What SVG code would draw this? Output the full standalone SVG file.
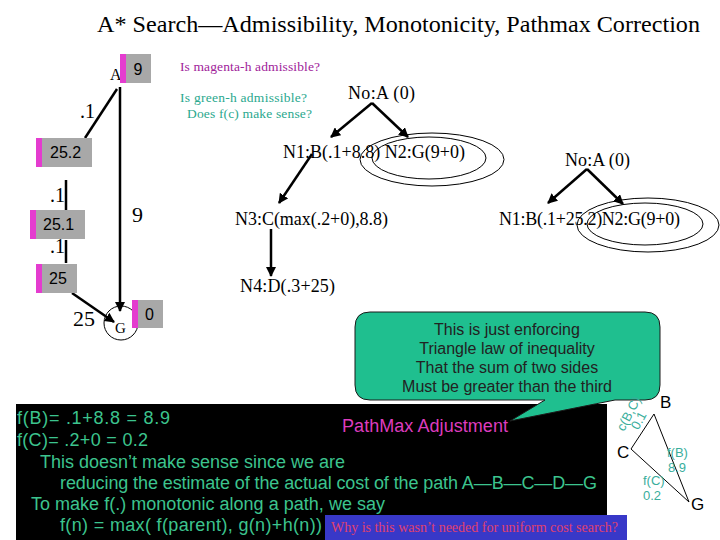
<svg xmlns="http://www.w3.org/2000/svg" width="720" height="540" viewBox="0 0 720 540">
<defs>
<marker id="ah" viewBox="0 0 10 10" refX="9" refY="5" markerWidth="4" markerHeight="4" orient="auto" markerUnits="strokeWidth">
<path d="M0,0 L10,5 L0,10 z" fill="#000"/>
</marker>
<style>
.serif{font-family:"Liberation Serif","Times New Roman",serif;}
.sans{font-family:"Liberation Sans",Arial,sans-serif;}
.edge{stroke:#000;stroke-width:2.5;fill:none;}
.arr{stroke:#000;stroke-width:2.5;fill:none;marker-end:url(#ah);}
.gray{fill:#A8A8A8;}
.mag{fill:#E43CCF;}
.ell{fill:none;stroke:#000;stroke-width:1;}
.grn{fill:#3CC48E;font-family:"Liberation Sans",Arial,sans-serif;font-size:18px;}
.tl{fill:#3AAE9C;font-family:"Liberation Sans",Arial,sans-serif;font-size:13px;}
</style>
</defs>
<rect width="720" height="540" fill="#fff"/>
<text x="97" y="32" font-family="Liberation Serif, Times New Roman, serif" font-size="24" textLength="603" lengthAdjust="spacingAndGlyphs">A* Search—Admissibility, Monotonicity, Pathmax Correction</text>

<g id="connectors">
<line class="edge" x1="117" y1="89" x2="85" y2="138"/>
<line class="edge" x1="66" y1="180" x2="66" y2="210"/>
<line class="edge" x1="66" y1="240" x2="66" y2="263"/>
<line class="arr" x1="72" y1="293" x2="114" y2="322"/>
<line class="arr" x1="120" y1="87" x2="120" y2="311"/>
<line class="arr" x1="372" y1="103" x2="331" y2="137"/>
<line class="arr" x1="372" y1="103" x2="408" y2="137"/>
<line class="arr" x1="312" y1="154" x2="279" y2="203"/>
<line class="arr" x1="271" y1="229" x2="271" y2="276"/>
<line class="arr" x1="587" y1="169" x2="548" y2="203"/>
<line class="arr" x1="587" y1="169" x2="623" y2="204"/>
</g>

<g id="edge-labels" font-family="Liberation Serif, Times New Roman, serif">
<text x="80" y="118" font-size="20">.1</text>
<text x="50" y="202" font-size="20">.1</text>
<text x="50" y="253" font-size="20">.1</text>
<text x="132" y="222" font-size="22">9</text>
<text x="73" y="326" font-size="22">25</text>
</g>

<g id="node-A">
<text class="serif" x="110" y="80" font-size="16">A</text>
<rect class="mag" x="120" y="54" width="6" height="29"/>
<rect class="gray" x="126" y="54" width="25" height="29"/>
<text class="sans" x="138" y="75" font-size="16" text-anchor="middle">9</text>
</g>
<g id="node-25-2">
<rect class="mag" x="36" y="138" width="6" height="29"/>
<rect class="gray" x="42" y="138" width="50" height="29"/>
<text class="sans" x="50" y="158" font-size="16">25.2</text>
</g>
<g id="node-25-1">
<rect class="mag" x="30" y="210" width="6" height="29"/>
<rect class="gray" x="36" y="210" width="49" height="29"/>
<text class="sans" x="43" y="230" font-size="16">25.1</text>
</g>
<g id="node-25">
<rect class="mag" x="36" y="264" width="6" height="29"/>
<rect class="gray" x="42" y="264" width="35" height="29"/>
<text class="sans" x="49" y="284" font-size="16">25</text>
</g>
<g id="node-G">
<circle cx="121" cy="323" r="17" fill="none" stroke="#000" stroke-width="1"/>
<text class="serif" x="115" y="333" font-size="15">G</text>
<rect class="mag" x="132" y="300" width="6" height="28"/>
<rect class="gray" x="138" y="300" width="25" height="28"/>
<text class="sans" x="145" y="320" font-size="16">0</text>
</g>

<g id="questions" class="serif" font-size="13.5">
<text x="180" y="71" fill="#A0229A" textLength="140">Is magenta-h admissible?</text>
<text x="180" y="102" fill="#2AA88E" textLength="127">Is green-h admissible?</text>
<text x="187" y="118" fill="#2AA88E" textLength="125">Does f(c) make sense?</text>
</g>

<g id="tree1" class="serif" font-size="18">
<text x="348" y="99" textLength="67">No:A (0)</text>
<text x="283" y="158" textLength="182">N1:B(.1+8.8) N2:G(9+0)</text>
<ellipse class="ell" cx="432" cy="159.5" rx="72" ry="26.5"/>
<ellipse class="ell" cx="429" cy="158" rx="57" ry="21"/>
<text x="235" y="225" textLength="153">N3:C(max(.2+0),8.8)</text>
<text x="240" y="292" textLength="95">N4:D(.3+25)</text>
</g>

<g id="tree2" class="serif" font-size="18">
<text x="565" y="166" textLength="65">No:A (0)</text>
<text x="499" y="225" textLength="181">N1:B(.1+25.2)N2:G(9+0)</text>
<ellipse class="ell" cx="648" cy="225" rx="71" ry="27"/>
<ellipse class="ell" cx="645" cy="224" rx="58" ry="21"/>
</g>

<g id="pathmax-box">
<rect x="16" y="404" width="591" height="136" fill="#000"/>
<text class="grn" x="17" y="424" textLength="153">f(B)= .1+8.8 = 8.9</text>
<text class="grn" x="17" y="446" textLength="131">f(C)= .2+0 = 0.2</text>
<text class="grn" x="40" y="468" textLength="305">This doesn’t make sense since we are</text>
<text class="grn" x="60" y="489" textLength="537">reducing the estimate of the actual cost of the path A—B—C—D—G</text>
<text class="grn" x="31" y="510" textLength="354">To make f(.) monotonic along a path, we say</text>
<text class="grn" x="60" y="531" textLength="262">f(n) = max( f(parent), g(n)+h(n))</text>
<text class="sans" x="342" y="432" font-size="18" fill="#DD3CBE" textLength="166">PathMax Adjustment</text>
</g>

<g id="why-box">
<rect x="325" y="515" width="302" height="25" fill="#3838C8"/>
<text class="serif" x="331" y="532" font-size="14" fill="#E0406E" textLength="287">Why is this wasn’t needed for uniform cost search?</text>
</g>

<g id="callout">
<path d="M370,312 H645 Q660,312 660,327 V385 Q660,400 645,400 H615 L510,421 L545,400 H370 Q355,400 355,385 V327 Q355,312 370,312 Z" fill="#1FBF8F" stroke="#1A1A1A" stroke-width="1"/>
<g class="sans" font-size="16" fill="#222" text-anchor="middle">
<text x="507" y="335">This is just enforcing</text>
<text x="507" y="354">Triangle law of inequality</text>
<text x="507" y="373">That the sum of two sides</text>
<text x="507" y="392">Must be greater than the third</text>
</g>
</g>

<g id="triangle">
<polygon points="654,414 631,449 689,502" fill="none" stroke="#000" stroke-width="1"/>
<text class="sans" x="660" y="408" font-size="17">B</text>
<text class="sans" x="617" y="458" font-size="17">C</text>
<text class="sans" x="691" y="510" font-size="17">G</text>
<text class="tl" x="667" y="457">f(B)</text>
<text class="tl" x="668" y="472">8.9</text>
<text class="tl" x="643" y="485">f(C)</text>
<text class="tl" x="643" y="500">0.2</text>
<g transform="translate(624,432) rotate(-62)">
<text class="tl" x="0" y="0" font-size="11">c(B,C)</text>
<text class="tl" x="8" y="12" font-size="11">0.1</text>
</g>
</g>
</svg>
